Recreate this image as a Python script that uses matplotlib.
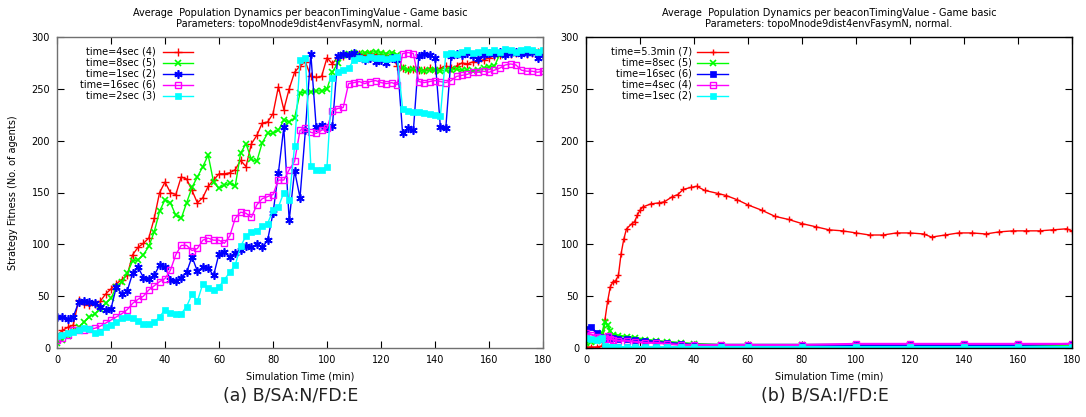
import numpy as np
import matplotlib
matplotlib.use("Agg")
import matplotlib.pyplot as plt
from matplotlib.lines import Line2D

plt.rcParams['font.family'] = ['Liberation Sans Narrow', 'DejaVu Sans']

# ---------------- data: left panel (a) ----------------
t_left = np.arange(0, 181, 2)

red_a = [12, 17, 20, 22, 46, 42, 41, 42, 45, 52, 57, 62, 66, 70, 90, 97, 101, 106, 125, 150,
         160, 150, 148, 165, 163, 152, 140, 145, 156, 162, 168, 168, 169, 172, 181, 175, 197, 205, 217, 218,
         226, 252, 230, 250, 266, 272, 276, 262, 261, 262, 280, 274, 281, 282, 283, 283, 284, 283, 284, 283,
         283, 282, 283, 272, 270, 268, 269, 268, 268, 270, 268, 270, 272, 270, 272, 275, 274, 276, 277, 278,
         280, 282, 283, 284, 284, 285, 285, 284, 285, 286, 284]
green_a = [5, 8, 12, 16, 20, 25, 30, 33, 38, 43, 48, 59, 64, 72, 84, 85, 90, 98, 112, 132,
           143, 140, 128, 125, 140, 155, 165, 175, 186, 160, 154, 157, 159, 156, 188, 197, 182, 180, 198, 207,
           207, 210, 220, 218, 222, 246, 247, 247, 248, 248, 250, 266, 275, 283, 284, 285, 284, 285, 285, 286,
           285, 284, 285, 283, 270, 268, 269, 268, 267, 268, 268, 267, 268, 268, 269, 268, 268, 267, 268, 270,
           271, 272, 283, 284, 285, 285, 286, 285, 286, 286, 285]
blue_a = [30, 30, 28, 30, 44, 45, 44, 43, 40, 37, 38, 59, 52, 55, 72, 78, 68, 67, 70, 80,
          78, 66, 65, 68, 73, 88, 74, 78, 77, 70, 91, 93, 88, 92, 95, 98, 97, 100, 97, 104,
          130, 169, 213, 123, 171, 145, 210, 284, 213, 215, 212, 214, 282, 284, 283, 285, 281, 278, 280, 276,
          278, 275, 280, 278, 207, 212, 210, 282, 284, 283, 280, 213, 212, 282, 284, 283, 285, 282, 279, 283,
          285, 284, 286, 283, 285, 286, 284, 285, 286, 280, 283]
magenta_a = [8, 10, 13, 17, 17, 17, 18, 19, 21, 24, 27, 30, 33, 37, 43, 47, 50, 56, 60, 64,
             67, 75, 90, 99, 99, 94, 96, 104, 106, 104, 104, 101, 108, 125, 131, 130, 126, 138, 144, 146,
             148, 162, 162, 172, 180, 210, 212, 208, 207, 210, 212, 229, 231, 232, 255, 256, 257, 255, 257, 258,
             256, 255, 256, 254, 284, 285, 284, 257, 256, 257, 258, 257, 256, 258, 262, 263, 264, 266, 266, 267,
             266, 268, 270, 273, 274, 273, 268, 267, 267, 266, 267]
cyan_a = [12, 13, 14, 15, 17, 19, 18, 14, 15, 20, 22, 25, 29, 30, 29, 26, 23, 23, 25, 30,
          37, 34, 33, 33, 40, 52, 45, 62, 58, 56, 59, 66, 73, 80, 98, 108, 112, 113, 118, 120,
          133, 136, 150, 143, 195, 278, 280, 176, 172, 172, 175, 260, 266, 268, 270, 278, 280, 279, 281, 280,
          280, 279, 280, 281, 231, 229, 228, 228, 227, 226, 225, 224, 284, 285, 284, 286, 287, 285, 286, 287,
          286, 287, 286, 288, 287, 286, 287, 288, 287, 286, 287]

labels_a = ["time=4sec (4)", "time=8sec (5)", "time=1sec (2)", "time=16sec (6)", "time=2sec (3)"]

# ---------------- data: right panel (b) ----------------
t_red_b = [0, 2, 4, 6, 7, 8, 9, 10, 11, 12, 13, 14, 15, 17, 18, 19, 20, 21, 24, 27, 29, 32, 34, 36, 39, 41,
           44, 49, 52, 56, 60, 65, 70, 75, 80, 85, 90, 95, 100, 105, 110, 115, 120, 125, 128, 133, 138, 143,
           148, 153, 158, 163, 168, 173, 178, 180]
red_b = [1, 1, 1, 2, 27, 45, 59, 64, 65, 70, 91, 105, 115, 120, 122, 128, 133, 136, 139, 140, 141, 146, 148, 153, 155, 156,
         152, 149, 147, 143, 138, 133, 127, 124, 120, 117, 114, 113, 111, 109, 109, 111, 111, 110, 107, 109, 111, 111,
         110, 112, 113, 113, 113, 114, 115, 113]
t_small_b = [0, 2, 4, 5, 6, 7, 8, 9, 10, 12, 15, 18, 22, 26, 30, 35, 40, 50, 60, 80, 100, 120, 140, 160, 180]
green_b = [5, 6, 7, 9, 14, 25, 22, 16, 13, 12, 11, 10, 8, 7, 6, 5, 4, 3, 3, 3, 3, 3, 3, 3, 3]
blue_b = [18, 20, 14, 11, 9, 9, 11, 10, 10, 9, 9, 8, 7, 6, 5, 4, 3, 3, 3, 3, 3, 3, 3, 3, 4]
magenta_b = [14, 13, 11, 10, 10, 9, 12, 9, 8, 7, 7, 6, 5, 5, 4, 3, 3, 3, 3, 3, 4, 4, 4, 4, 4]
cyan_b = [10, 9, 8, 9, 10, 2, 1, 1, 1, 1, 1, 1, 1, 1, 1, 1, 1, 1, 1, 1, 1, 1, 1, 1, 1]

labels_b = ["time=5.3min (7)", "time=8sec (5)", "time=16sec (6)", "time=4sec (4)", "time=1sec (2)"]

title_l1 = "Average  Population Dynamics per beaconTimingValue - Game basic"
title_l2 = "Parameters: topoMnode9dist4envFasymN, normal."
xlabel = "Simulation Time (min)"
ylabel = "Strategy Fitness (No. of agents)"
captions = ["(a) B/SA:N/FD:E", "(b) B/SA:I/FD:E"]
x_ticks = list(range(0, 181, 20))
y_ticks = list(range(0, 301, 50))

RED, GREEN, BLUE, MAG, CYAN = "#ff0000", "#00ff00", "#0000ff", "#ff00ff", "#00ffff"

W, H = 1086, 417
fig = plt.figure(figsize=(W / 100, H / 100), dpi=100)


def fx(px):
    return px / W


def fy(py):
    return 1 - py / H


axL = fig.add_axes([fx(57), fy(348), fx(543) - fx(57), fy(37) - fy(348)])
axR = fig.add_axes([fx(586), fy(348), fx(1072) - fx(586), fy(37) - fy(348)])

styles_a = [
    dict(color=RED, marker="+", ms=6, mew=1.0),
    dict(color=GREEN, marker="x", ms=5, mew=1.2),
    dict(color=BLUE, marker=(6, 2, 0), ms=6, mew=1.2),
    dict(color=MAG, marker="s", ms=4.5, mew=1.0, mfc="none"),
    dict(color=CYAN, marker="s", ms=5, mew=0.5),
]
series_a = [red_a, green_a, blue_a, magenta_a, cyan_a]
for ys, st in zip(series_a, styles_a):
    axL.plot(t_left, ys, lw=1.0, **st)

styles_b = [
    dict(color=RED, marker="+", ms=5, mew=1.0),
    dict(color=GREEN, marker="x", ms=4, mew=1.2),
    dict(color=BLUE, marker="s", ms=4, mew=0.5),
    dict(color=MAG, marker="s", ms=4, mew=1.0, mfc="none"),
    dict(color=CYAN, marker="s", ms=4.5, mew=0.5),
]
axR.plot(t_red_b, red_b, lw=1.0, **styles_b[0])
for ys, st in zip([green_b, blue_b, magenta_b, cyan_b], styles_b[1:]):
    axR.plot(t_small_b, ys, lw=1.5, **st)

for ax, spine_col in ((axL, "#707070"), (axR, "black")):
    ax.set_xlim(0, 180)
    ax.set_ylim(0, 300)
    ax.set_xticks(x_ticks)
    ax.set_yticks(y_ticks)
    ax.tick_params(direction="in", length=5, width=0.8, top=True, right=True,
                   labelsize=7, pad=5, colors="black")
    for s in ax.spines.values():
        s.set_color(spine_col)
        s.set_linewidth(1.0)
    ax.set_xlabel(xlabel, fontsize=7, labelpad=5)

axL.set_ylabel(ylabel, fontsize=7, labelpad=10)

# titles
for cx in ((57 + 543) / 2, (586 + 1072) / 2):
    fig.text(fx(cx), fy(13), title_l1, fontsize=7, ha="center", va="center")
    fig.text(fx(cx), fy(24), title_l2, fontsize=7, ha="center", va="center")

# legends (gnuplot style: right-aligned text, then a line sample with marker)
def draw_legend(text_right, line_x0, line_x1, rows, labels, styles):
    for py, lab, st in zip(rows, labels, styles):
        fig.text(fx(text_right), fy(py), lab, fontsize=7, ha="right", va="center")
        fig.add_artist(Line2D([fx(line_x0), fx(line_x1)], [fy(py), fy(py)], lw=1.0,
                              color=st["color"], transform=fig.transFigure))
        kw = {k: v for k, v in st.items() if k != "color"}
        fig.add_artist(Line2D([fx((line_x0 + line_x1) / 2)], [fy(py)], lw=0, color=st["color"],
                              transform=fig.transFigure, **kw))

rows_L = [51.5, 62.5, 73.5, 84.5, 95.5]
draw_legend(156, 163, 193, rows_L, labels_a, styles_a)
draw_legend(692, 697, 728, rows_L, labels_b, styles_b)

fig.text(fx(291), fy(396), captions[0], fontsize=12.5, ha="center", va="center",
         family="DejaVu Sans", color="#222222")
fig.text(fx(825), fy(396), captions[1], fontsize=12.5, ha="center", va="center",
         family="DejaVu Sans", color="#222222")

fig.savefig("out.png", dpi=100)
